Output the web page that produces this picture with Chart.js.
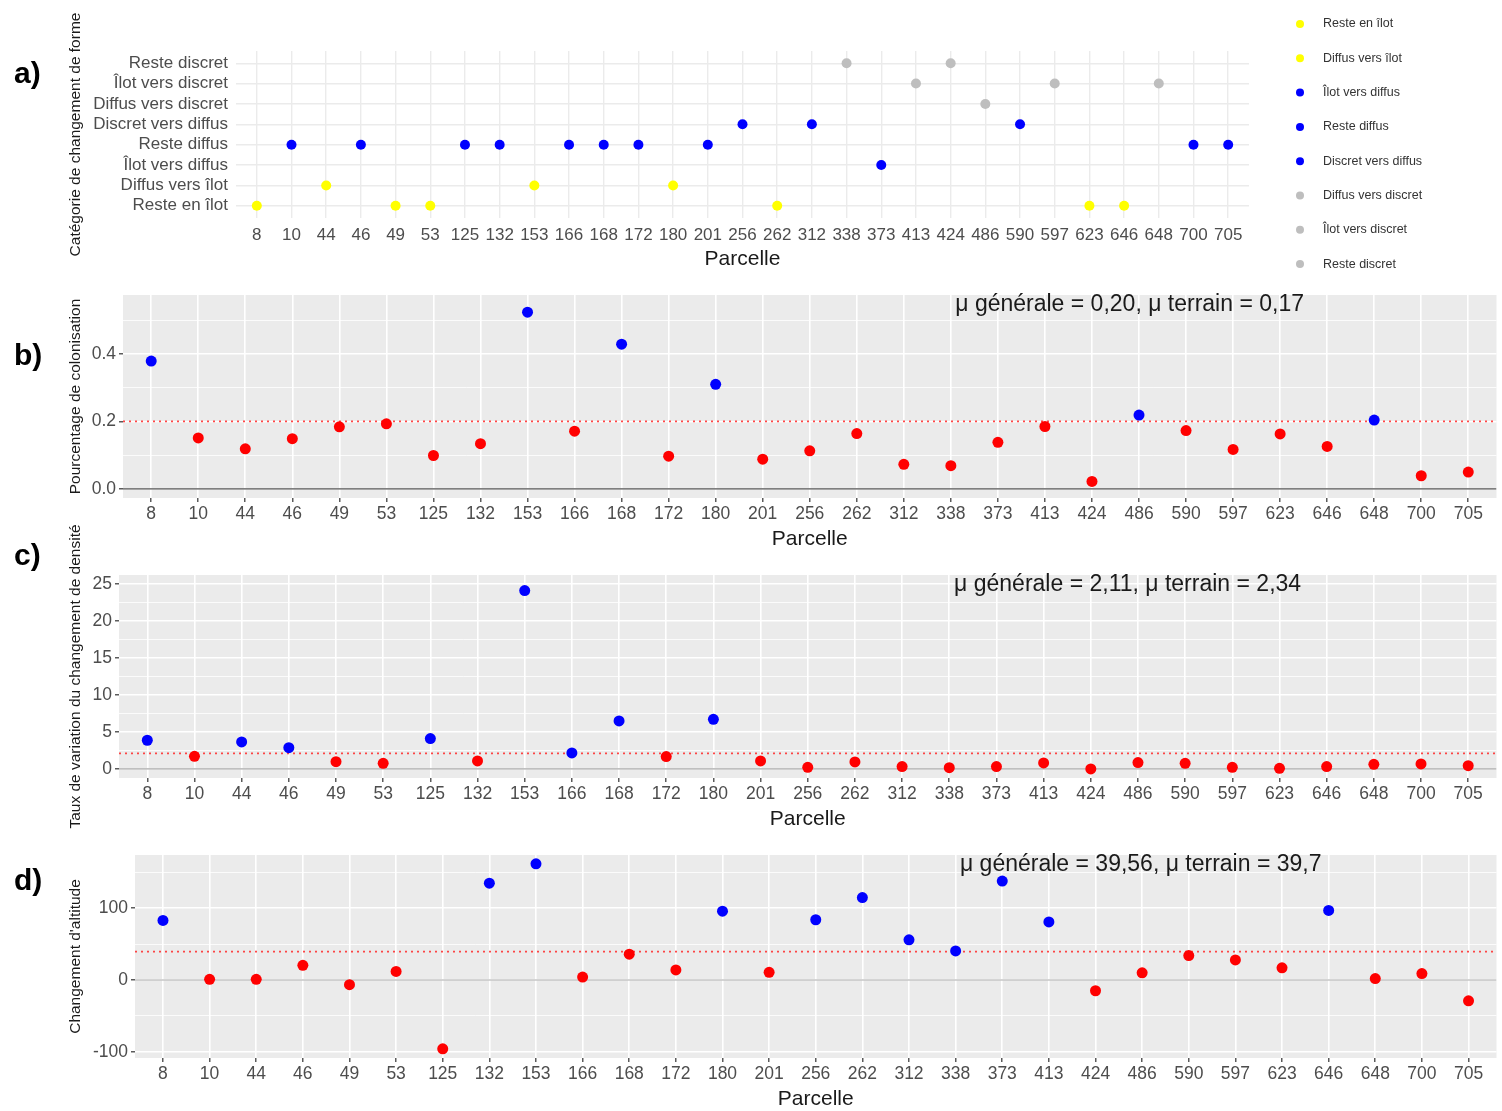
<!DOCTYPE html>
<html lang="fr">
<head>
<meta charset="utf-8">
<title>Changements par parcelle</title>
<script src="https://cdn.jsdelivr.net/npm/chart.js@4.4.1/dist/chart.umd.min.js"></script>
<style>
  html, body { margin:0; padding:0; background:#fff; overflow:hidden; }
  body { width:1502px; height:1111px; position:relative; }
  canvas { position:absolute; left:0; }
  .lettre { position:absolute; left:14px; font:bold 30px "Liberation Sans", Arial, sans-serif; color:#000; line-height:34px; }
</style>
</head>
<body>
<canvas id="chartA" width="1502" height="272" style="top:0px"></canvas>
<canvas id="chartB" width="1502" height="272" style="top:280px"></canvas>
<canvas id="chartC" width="1502" height="317" style="top:515px"></canvas>
<canvas id="chartD" width="1502" height="277" style="top:835px"></canvas>
<div class="lettre" style="top:56px">a)</div>
<div class="lettre" style="top:338px">b)</div>
<div class="lettre" style="top:538px">c)</div>
<div class="lettre" style="top:863px">d)</div>
<script>
var parcelles = ["8","10","44","46","49","53","125","132","153","166","168","172","180","201",
  "256","262","312","338","373","413","424","486","590","597","623","646","648","700","705"];

// ordre de bas en haut sur l'axe
var categoriesForme = ["Reste en îlot","Diffus vers îlot","Îlot vers diffus","Reste diffus",
  "Discret vers diffus","Diffus vers discret","Îlot vers discret","Reste discret"];

var formeParcelle = ["Reste en îlot","Reste diffus","Diffus vers îlot","Reste diffus","Reste en îlot",
  "Reste en îlot","Reste diffus","Reste diffus","Diffus vers îlot","Reste diffus","Reste diffus",
  "Reste diffus","Diffus vers îlot","Reste diffus","Discret vers diffus","Reste en îlot",
  "Discret vers diffus","Reste discret","Îlot vers diffus","Îlot vers discret","Reste discret",
  "Diffus vers discret","Discret vers diffus","Îlot vers discret","Reste en îlot","Reste en îlot",
  "Îlot vers discret","Reste diffus","Reste diffus"];

var colonisation = [0.379,0.151,0.119,0.149,0.184,0.193,0.099,0.134,0.524,0.171,0.429,0.097,0.310,
  0.088,0.113,0.164,0.073,0.069,0.138,0.185,0.022,0.219,0.173,0.117,0.163,0.126,0.204,0.039,0.050];

var densite = [3.88,1.71,3.65,2.88,0.99,0.77,4.10,1.08,24.1,2.16,6.49,1.67,6.71,
  1.08,0.22,0.95,0.32,0.18,0.32,0.81,0.0,0.86,0.77,0.22,0.09,0.32,0.63,0.68,0.45];

var altitude = [83,1,1,20.5,-6.5,12,-96,135,162,4,36,14,96,
  10.7,84,115,56,40.5,138,81,-15,10,34,28,17,97,2,9,-29];

var muGenerale = [0.20, 2.11, 39.56];
var textesMoyennes = ["μ générale = 0,20, μ terrain = 0,17",
  "μ générale = 2,11, μ terrain = 2,34",
  "μ générale = 39,56, μ terrain = 39,7"];

var couleursForme = ["#ffff00","#ffff00","#0000ff","#0000ff","#0000ff","#bebebe","#bebebe","#bebebe"];
var bleu = "#0000ff", rouge = "#ff0000";
var police = "'Liberation Sans', Arial, sans-serif";

var fond = {
  id: 'fond',
  beforeDraw: function(chart, args, opts) {
    if (!opts.couleur) return;
    var a = chart.chartArea, ctx = chart.ctx;
    ctx.save();
    ctx.fillStyle = opts.couleur;
    ctx.fillRect(a.left, a.top, a.right - a.left, a.bottom - a.top);
    ctx.restore();
  }
};

var texteMoyenne = {
  id: 'texteMoyenne',
  afterDatasetsDraw: function(chart, args, opts) {
    if (!opts.texte) return;
    var ctx = chart.ctx;
    ctx.save();
    ctx.font = '23px ' + police;
    ctx.fillStyle = '#1a1a1a';
    ctx.textAlign = 'center';
    ctx.textBaseline = 'middle';
    ctx.fillText(opts.texte, chart.scales.x.getPixelForValue(opts.x), chart.chartArea.top + 10);
    ctx.restore();
  }
};

var legendeForme = {
  id: 'legendeForme',
  afterDraw: function(chart) {
    var ctx = chart.ctx;
    ctx.save();
    ctx.font = '12.5px ' + police;
    ctx.textBaseline = 'middle';
    ctx.textAlign = 'left';
    chart.data.datasets.forEach(function(ds, i) {
      var y = 24 + i * 34.3;
      ctx.fillStyle = ds.backgroundColor;
      ctx.beginPath();
      ctx.arc(1300, y, 4, 0, 2 * Math.PI);
      ctx.fill();
      ctx.fillStyle = '#333333';
      ctx.fillText(ds.label, 1323, y);
    });
    ctx.restore();
  }
};

function axeParcelles(fin) {
  return {
    type: 'linear', min: -0.6, max: 28.6,
    afterBuildTicks: function(s) { s.ticks = parcelles.map(function(p, i) { return {value: i}; }); },
    afterFit: function(s) { s.height = 54; },
    ticks: {
      autoSkip: false, maxRotation: 0, padding: fin ? 2 : 7, color: '#4d4d4d',
      font: {family: police, size: fin ? 17.5 : 17},
      callback: function(v) { return parcelles[v]; }
    },
    grid: fin ? {color: '#ffffff', lineWidth: 1.6, drawTicks: true, tickLength: 4, tickColor: '#333333', tickWidth: 1.2}
              : {color: '#ebebeb', lineWidth: 1.4, drawTicks: false},
    border: {display: false},
    title: {display: true, text: 'Parcelle', color: '#1a1a1a', font: {family: police, size: 21}, padding: 0}
  };
}

// graphique a) : catégorie de changement de forme
var datasetsForme = categoriesForme.map(function(cat, k) {
  var pts = [];
  formeParcelle.forEach(function(f, i) { if (f === cat) pts.push({x: i, y: k}); });
  return {label: cat, data: pts, backgroundColor: couleursForme[k], borderWidth: 0, pointRadius: 5};
});

new Chart(document.getElementById('chartA'), {
  type: 'scatter',
  data: {datasets: datasetsForme},
  plugins: [legendeForme],
  options: {
    responsive: false, animation: false,
    layout: {padding: {top: 51, right: 253, left: 0, bottom: 0}},
    plugins: {legend: {display: false}, tooltip: {enabled: false}},
    scales: {
      x: axeParcelles(false),
      y: {
        type: 'linear', min: -0.6, max: 7.6,
        afterBuildTicks: function(s) { s.ticks = categoriesForme.map(function(c, i) { return {value: i}; }); },
        afterFit: function(s) { s.width = 236; },
        ticks: {autoSkip: false, padding: 8, color: '#4d4d4d', font: {family: police, size: 17},
          callback: function(v) { return categoriesForme[v]; }},
        grid: {color: '#ebebeb', lineWidth: 1.4, drawTicks: false},
        border: {display: false},
        title: {display: true, text: 'Catégorie de changement de forme', color: '#1a1a1a',
          font: {family: police, size: 15.5}, padding: {top: 66, bottom: 0}}
      }
    }
  }
});

// graphiques b), c), d)
function panneau(id, valeurs, moyenne, texte, axe) {
  var ticksY = axe.majeurs.map(function(v) { return {value: v}; })
    .concat(axe.mineurs.map(function(v) { return {value: v, mineur: true}; }));
  ticksY.sort(function(a, b) { return a.value - b.value; });
  return new Chart(document.getElementById(id), {
    type: 'scatter',
    data: {
      datasets: [
        {
          label: 'valeurs', order: 0, pointRadius: 5.5, borderWidth: 0,
          data: valeurs.map(function(v, i) { return {x: i, y: v}; }),
          backgroundColor: function(c) { return c.raw && c.raw.y > moyenne ? bleu : rouge; }
        },
        {
          type: 'line', label: 'moyenne', order: 1, pointRadius: 0, borderWidth: 1.8,
          borderColor: 'rgba(255,40,40,0.85)', borderDash: [2, 4],
          data: [{x: -0.6, y: moyenne}, {x: 28.6, y: moyenne}]
        },
        {
          type: 'line', label: 'zéro', order: 2, pointRadius: 0, borderWidth: 1.2,
          borderColor: axe.zero, data: [{x: -0.6, y: 0}, {x: 28.6, y: 0}]
        }
      ]
    },
    plugins: [fond, texteMoyenne],
    options: {
      responsive: false, animation: false,
      layout: {padding: {top: axe.haut, right: 0, left: 0, bottom: 0}},
      plugins: {
        legend: {display: false}, tooltip: {enabled: false},
        fond: {couleur: '#ebebeb'},
        texteMoyenne: {texte: texte, x: axe.xTexte}
      },
      scales: {
        x: axeParcelles(true),
        y: {
          type: 'linear', min: axe.min, max: axe.max,
          afterBuildTicks: function(s) { s.ticks = ticksY.map(function(t) { return {value: t.value, mineur: t.mineur}; }); },
          afterFit: function(s) { s.width = axe.gauche; },
          ticks: {
            autoSkip: false, padding: 3, color: '#4d4d4d', font: {family: police, size: 17.5},
            callback: function(v, i, ticks) { return ticks[i].mineur ? '' : axe.format(v); }
          },
          grid: {
            color: '#ffffff', drawTicks: true, tickLength: 4, tickWidth: 1.2,
            lineWidth: function(c) { return c.tick && c.tick.mineur ? 0.8 : 1.6; },
            tickColor: function(c) { return c.tick && c.tick.mineur ? 'rgba(0,0,0,0)' : '#333333'; }
          },
          border: {display: false},
          title: {display: true, text: axe.titre, color: '#1a1a1a', font: {family: police, size: 15.5},
            padding: {top: 66, bottom: 0}}
        }
      }
    }
  });
}

panneau('chartB', colonisation, muGenerale[0], textesMoyennes[0], {
  haut: 15, gauche: 123, min: -0.027, max: 0.575, zero: '#555555', xTexte: 20.8,
  majeurs: [0, 0.2, 0.4], mineurs: [0.1, 0.3, 0.5],
  format: function(v) { return v.toFixed(1); },
  titre: 'Pourcentage de colonisation'
});

panneau('chartC', densite, muGenerale[1], textesMoyennes[1], {
  haut: 60, gauche: 119, min: -1.22, max: 26.2, zero: '#aaaaaa', xTexte: 20.78,
  majeurs: [0, 5, 10, 15, 20, 25], mineurs: [2.5, 7.5, 12.5, 17.5, 22.5],
  format: function(v) { return String(v); },
  titre: 'Taux de variation du changement de densité'
});

panneau('chartD', altitude, muGenerale[2], textesMoyennes[2], {
  haut: 20, gauche: 135, min: -108.8, max: 174.3, zero: '#aaaaaa', xTexte: 20.97,
  majeurs: [-100, 0, 100], mineurs: [-50, 50, 150],
  format: function(v) { return String(v); },
  titre: "Changement d'altitude"
});
</script>
</body>
</html>
